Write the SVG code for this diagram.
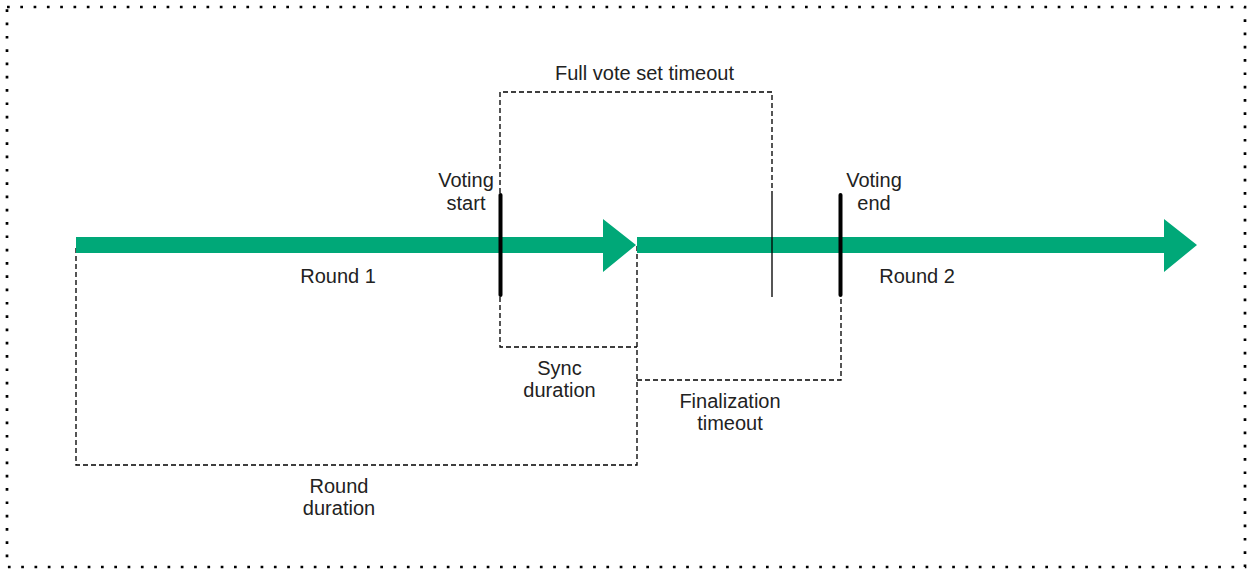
<svg xmlns="http://www.w3.org/2000/svg" width="1250" height="569" viewBox="0 0 1250 569">
  <style>
    .t { font-family: "Liberation Sans", Arial, sans-serif; font-size: 20px; fill: #222; text-anchor: middle; }
    .dash { fill: none; stroke: #000; stroke-width: 1.33; stroke-dasharray: 5 3; }
    .thick { stroke: #000; stroke-width: 4; stroke-linecap: round; }
    .thin { stroke: #000; stroke-width: 1.33; }
    .arrow { fill: #00a878; }
  </style>
  <rect id="frame" x="7" y="7" width="1238" height="560" fill="none" stroke="#000" stroke-width="2.7" stroke-dasharray="2.7 10.6"/>

  <g id="connectors">
    <path class="dash" d="M500,193 V92 H772 V193"/>
    <path class="dash" d="M500,297 V347 H637"/>
    <path class="dash" d="M637,246 V465 H76 V246"/>
    <path class="dash" d="M637,380 H841 V297"/>
  </g>

  <g id="round1-arrow">
    <path class="arrow" d="M76,237 H603 V219 L636,245 L603,272 V253 H76 Z"/>
    <text class="t" x="338" y="283">Round 1</text>
  </g>
  <g id="round2-arrow">
    <path class="arrow" d="M637,237 H1164 V219 L1197,245 L1164,272 V253 H637 Z"/>
    <text class="t" x="917" y="283">Round 2</text>
  </g>

  <g id="voting-start">
    <line class="thick" x1="500.5" y1="195" x2="500.5" y2="295"/>
    <text class="t" x="466" y="187">Voting</text>
    <text class="t" x="466" y="210">start</text>
  </g>
  <g id="full-vote-set-end">
    <line class="thin" x1="772" y1="193" x2="772" y2="297"/>
  </g>
  <g id="voting-end">
    <line class="thick" x1="840.5" y1="195" x2="840.5" y2="295"/>
    <text class="t" x="874" y="187">Voting</text>
    <text class="t" x="874" y="210">end</text>
  </g>

  <g id="full-vote-set-timeout">
    <text class="t" x="644.5" y="80">Full vote set timeout</text>
  </g>
  <g id="sync-duration">
    <text class="t" x="559.5" y="375">Sync</text>
    <text class="t" x="559.5" y="397">duration</text>
  </g>
  <g id="finalization-timeout">
    <text class="t" x="730" y="408">Finalization</text>
    <text class="t" x="730" y="430">timeout</text>
  </g>
  <g id="round-duration">
    <text class="t" x="339" y="493">Round</text>
    <text class="t" x="339" y="515">duration</text>
  </g>
</svg>
